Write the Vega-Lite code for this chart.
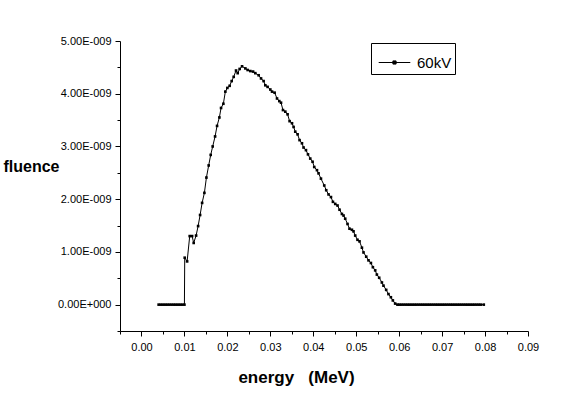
{
  "$schema": "https://vega.github.io/schema/vega-lite/v6.json",
  "width": 408,
  "height": 290,
  "autosize": "none",
  "padding": {"left": 120, "top": 41, "right": 36, "bottom": 63},
  "background": "white",
  "config": {"view": {"stroke": null}, "font": "Liberation Sans"},
  "data": {"values": [
    {"energy": 0.004, "fluence": 0}, {"energy": 0.0045, "fluence": 0}, {"energy": 0.005, "fluence": 0}, {"energy": 0.0055, "fluence": 0},
    {"energy": 0.006, "fluence": 0}, {"energy": 0.0065, "fluence": 0}, {"energy": 0.007, "fluence": 0}, {"energy": 0.0075, "fluence": 0},
    {"energy": 0.008, "fluence": 0}, {"energy": 0.0085, "fluence": 0}, {"energy": 0.009, "fluence": 0}, {"energy": 0.0095, "fluence": 0},
    {"energy": 0.0100, "fluence": 0},
    {"energy": 0.01007, "fluence": 0.89e-9},
    {"energy": 0.01063, "fluence": 0.82e-9},
    {"energy": 0.01123, "fluence": 1.30e-9},
    {"energy": 0.01179, "fluence": 1.30e-9},
    {"energy": 0.01216, "fluence": 1.17e-9},
    {"energy": 0.01272, "fluence": 1.31e-9},
    {"energy": 0.01319, "fluence": 1.49e-9},
    {"energy": 0.01365, "fluence": 1.70e-9},
    {"energy": 0.01412, "fluence": 1.93e-9},
    {"energy": 0.01465, "fluence": 2.12e-9},
    {"energy": 0.01512, "fluence": 2.41e-9},
    {"energy": 0.01565, "fluence": 2.64e-9},
    {"energy": 0.01612, "fluence": 2.84e-9},
    {"energy": 0.01658, "fluence": 3.00e-9},
    {"energy": 0.01714, "fluence": 3.19e-9},
    {"energy": 0.01760, "fluence": 3.39e-9},
    {"energy": 0.01814, "fluence": 3.55e-9},
    {"energy": 0.01853, "fluence": 3.73e-9},
    {"energy": 0.01907, "fluence": 3.81e-9},
    {"energy": 0.01953, "fluence": 4.04e-9},
    {"energy": 0.02000, "fluence": 4.11e-9},
    {"energy": 0.02053, "fluence": 4.15e-9},
    {"energy": 0.02100, "fluence": 4.24e-9},
    {"energy": 0.02147, "fluence": 4.32e-9},
    {"energy": 0.02202, "fluence": 4.44e-9},
    {"energy": 0.02240, "fluence": 4.39e-9},
    {"energy": 0.02286, "fluence": 4.47e-9},
    {"energy": 0.02342, "fluence": 4.52e-9},
    {"energy": 0.02419, "fluence": 4.48e-9},
    {"energy": 0.02472, "fluence": 4.45e-9},
    {"energy": 0.02535, "fluence": 4.43e-9},
    {"energy": 0.02598, "fluence": 4.42e-9},
    {"energy": 0.02651, "fluence": 4.39e-9},
    {"energy": 0.02728, "fluence": 4.35e-9},
    {"energy": 0.02784, "fluence": 4.29e-9},
    {"energy": 0.02844, "fluence": 4.24e-9},
    {"energy": 0.02884, "fluence": 4.16e-9},
    {"energy": 0.02937, "fluence": 4.13e-9},
    {"energy": 0.03000, "fluence": 4.08e-9},
    {"energy": 0.03040, "fluence": 4.04e-9},
    {"energy": 0.03100, "fluence": 4.02e-9},
    {"energy": 0.03156, "fluence": 3.91e-9},
    {"energy": 0.03209, "fluence": 3.86e-9},
    {"energy": 0.03249, "fluence": 3.83e-9},
    {"energy": 0.03295, "fluence": 3.69e-9},
    {"energy": 0.03349, "fluence": 3.66e-9},
    {"energy": 0.03402, "fluence": 3.61e-9},
    {"energy": 0.03449, "fluence": 3.48e-9},
    {"energy": 0.03505, "fluence": 3.44e-9},
    {"energy": 0.03542, "fluence": 3.37e-9},
    {"energy": 0.03581, "fluence": 3.28e-9},
    {"energy": 0.03635, "fluence": 3.23e-9},
    {"energy": 0.03681, "fluence": 3.12e-9},
    {"energy": 0.03737, "fluence": 3.06e-9},
    {"energy": 0.03774, "fluence": 2.98e-9},
    {"energy": 0.03830, "fluence": 2.93e-9},
    {"energy": 0.03877, "fluence": 2.85e-9},
    {"energy": 0.03930, "fluence": 2.77e-9},
    {"energy": 0.03984, "fluence": 2.71e-9},
    {"energy": 0.04023, "fluence": 2.61e-9},
    {"energy": 0.04086, "fluence": 2.55e-9},
    {"energy": 0.04123, "fluence": 2.49e-9},
    {"energy": 0.04179, "fluence": 2.39e-9},
    {"energy": 0.04256, "fluence": 2.26e-9},
    {"energy": 0.04302, "fluence": 2.17e-9},
    {"energy": 0.04356, "fluence": 2.09e-9},
    {"energy": 0.04412, "fluence": 2.04e-9},
    {"energy": 0.04458, "fluence": 1.95e-9},
    {"energy": 0.04512, "fluence": 1.91e-9},
    {"energy": 0.04565, "fluence": 1.88e-9},
    {"energy": 0.04612, "fluence": 1.80e-9},
    {"energy": 0.04667, "fluence": 1.72e-9},
    {"energy": 0.04705, "fluence": 1.69e-9},
    {"energy": 0.04744, "fluence": 1.63e-9},
    {"energy": 0.04798, "fluence": 1.53e-9},
    {"energy": 0.04844, "fluence": 1.44e-9},
    {"energy": 0.04900, "fluence": 1.42e-9},
    {"energy": 0.04937, "fluence": 1.39e-9},
    {"energy": 0.04977, "fluence": 1.31e-9},
    {"energy": 0.05030, "fluence": 1.23e-9},
    {"energy": 0.05077, "fluence": 1.20e-9},
    {"energy": 0.05133, "fluence": 1.08e-9},
    {"energy": 0.05170, "fluence": 0.99e-9},
    {"energy": 0.05233, "fluence": 0.91e-9},
    {"energy": 0.05286, "fluence": 0.84e-9},
    {"energy": 0.05342, "fluence": 0.79e-9},
    {"energy": 0.05388, "fluence": 0.71e-9},
    {"energy": 0.05442, "fluence": 0.65e-9},
    {"energy": 0.05481, "fluence": 0.57e-9},
    {"energy": 0.05535, "fluence": 0.51e-9},
    {"energy": 0.05598, "fluence": 0.42e-9},
    {"energy": 0.05635, "fluence": 0.36e-9},
    {"energy": 0.05698, "fluence": 0.28e-9},
    {"energy": 0.05751, "fluence": 0.20e-9},
    {"energy": 0.05807, "fluence": 0.14e-9},
    {"energy": 0.05853, "fluence": 0.08e-9},
    {"energy": 0.05907, "fluence": 0.02e-9},
    {"energy": 0.05960, "fluence": 0},
    {"energy": 0.0600, "fluence": 0}, {"energy": 0.0605, "fluence": 0}, {"energy": 0.061, "fluence": 0}, {"energy": 0.0615, "fluence": 0},
    {"energy": 0.062, "fluence": 0}, {"energy": 0.0625, "fluence": 0}, {"energy": 0.063, "fluence": 0}, {"energy": 0.0635, "fluence": 0},
    {"energy": 0.064, "fluence": 0}, {"energy": 0.0645, "fluence": 0}, {"energy": 0.065, "fluence": 0}, {"energy": 0.0655, "fluence": 0},
    {"energy": 0.066, "fluence": 0}, {"energy": 0.0665, "fluence": 0}, {"energy": 0.067, "fluence": 0}, {"energy": 0.0675, "fluence": 0},
    {"energy": 0.068, "fluence": 0}, {"energy": 0.0685, "fluence": 0}, {"energy": 0.069, "fluence": 0}, {"energy": 0.0695, "fluence": 0},
    {"energy": 0.070, "fluence": 0}, {"energy": 0.0705, "fluence": 0}, {"energy": 0.071, "fluence": 0}, {"energy": 0.0715, "fluence": 0},
    {"energy": 0.072, "fluence": 0}, {"energy": 0.0725, "fluence": 0}, {"energy": 0.073, "fluence": 0}, {"energy": 0.0735, "fluence": 0},
    {"energy": 0.074, "fluence": 0}, {"energy": 0.0745, "fluence": 0}, {"energy": 0.075, "fluence": 0}, {"energy": 0.0755, "fluence": 0},
    {"energy": 0.076, "fluence": 0}, {"energy": 0.0765, "fluence": 0}, {"energy": 0.077, "fluence": 0}, {"energy": 0.0775, "fluence": 0},
    {"energy": 0.078, "fluence": 0}, {"energy": 0.0785, "fluence": 0}, {"energy": 0.079, "fluence": 0}, {"energy": 0.0797, "fluence": 0}
  ]},
  "mark": {
    "type": "line",
    "strokeWidth": 1,
    "point": {"shape": "square", "size": 7, "filled": true, "color": "black"}
  },
  "encoding": {
    "x": {
      "field": "energy",
      "type": "quantitative",
      "scale": {"domain": [-0.005, 0.09], "nice": false, "zero": false},
      "axis": {
        "values": [-0.005, 0, 0.005, 0.01, 0.015, 0.02, 0.025, 0.03, 0.035, 0.04, 0.045, 0.05, 0.055, 0.06, 0.065, 0.07, 0.075, 0.08, 0.085, 0.09],
        "labelExpr": "abs(datum.value*100-round(datum.value*100))<1e-6 ? format(datum.value,'.2f') : ''",
        "tickSize": {"condition": {"test": "abs(datum.value*100-round(datum.value*100))<1e-6", "value": 5}, "value": 3},
        "grid": false,
        "labelOverlap": false,
        "labelFlush": false,
        "labelBound": false,
        "domainColor": "black",
        "tickColor": "black",
        "labelColor": "black",
        "labelFont": "Liberation Sans",
        "labelFontSize": 11,
        "labelPadding": 5,
        "title": "energy\u00a0\u00a0\u00a0(MeV)",
        "titleFont": "Liberation Sans",
        "titleFontSize": 17,
        "titleFontWeight": "bold",
        "titleColor": "black",
        "titleX": 176,
        "titleY": 46,
        "titleBaseline": "middle",
        "titleAlign": "center"
      }
    },
    "y": {
      "field": "fluence",
      "type": "quantitative",
      "scale": {"domain": [-5e-10, 5e-9], "nice": false, "zero": false},
      "axis": {
        "values": [-5e-10, 0, 5e-10, 1e-9, 1.5e-9, 2e-9, 2.5e-9, 3e-9, 3.5e-9, 4e-9, 4.5e-9, 5e-9],
        "labelExpr": "abs(datum.value*1e9-round(datum.value*1e9))<1e-6 ? (datum.value==0 ? '0.00E+000' : format(datum.value*1e9,'.2f')+'E-009') : ''",
        "tickSize": {"condition": {"test": "abs(datum.value*1e9-round(datum.value*1e9))<1e-6", "value": 5}, "value": 3},
        "grid": false,
        "labelOverlap": false,
        "labelFlush": false,
        "labelBound": false,
        "domainColor": "black",
        "tickColor": "black",
        "labelColor": "black",
        "labelFont": "Liberation Sans",
        "labelFontSize": 11,
        "labelPadding": 4,
        "title": "fluence",
        "titleFont": "Liberation Sans",
        "titleFontSize": 16,
        "titleFontWeight": "bold",
        "titleColor": "black",
        "titleAngle": 0,
        "titleAlign": "left",
        "titleBaseline": "middle",
        "titleX": -117,
        "titleY": 125
      }
    },
    "color": {
      "datum": "60kV",
      "type": "nominal",
      "scale": {"range": ["black"]},
      "legend": {
        "orient": "none",
        "legendX": 251,
        "legendY": 2,
        "title": null,
        "strokeColor": "black",
        "padding": 3,
        "labelFont": "Liberation Sans",
        "labelFontSize": 15,
        "labelColor": "black",
        "labelOffset": 6,
        "symbolType": "M-1,0H1M-0.1,-0.1H0.1V0.1H-0.1Z",
        "symbolSize": 1000,
        "symbolStrokeWidth": 1,
        "symbolStrokeColor": "black",
        "symbolFillColor": "black",
        "symbolOffset": 4,
        "encode": {"symbols": {"update": {"fill": {"value": "black"}, "stroke": {"value": "black"}}}}
      }
    }
  }
}
